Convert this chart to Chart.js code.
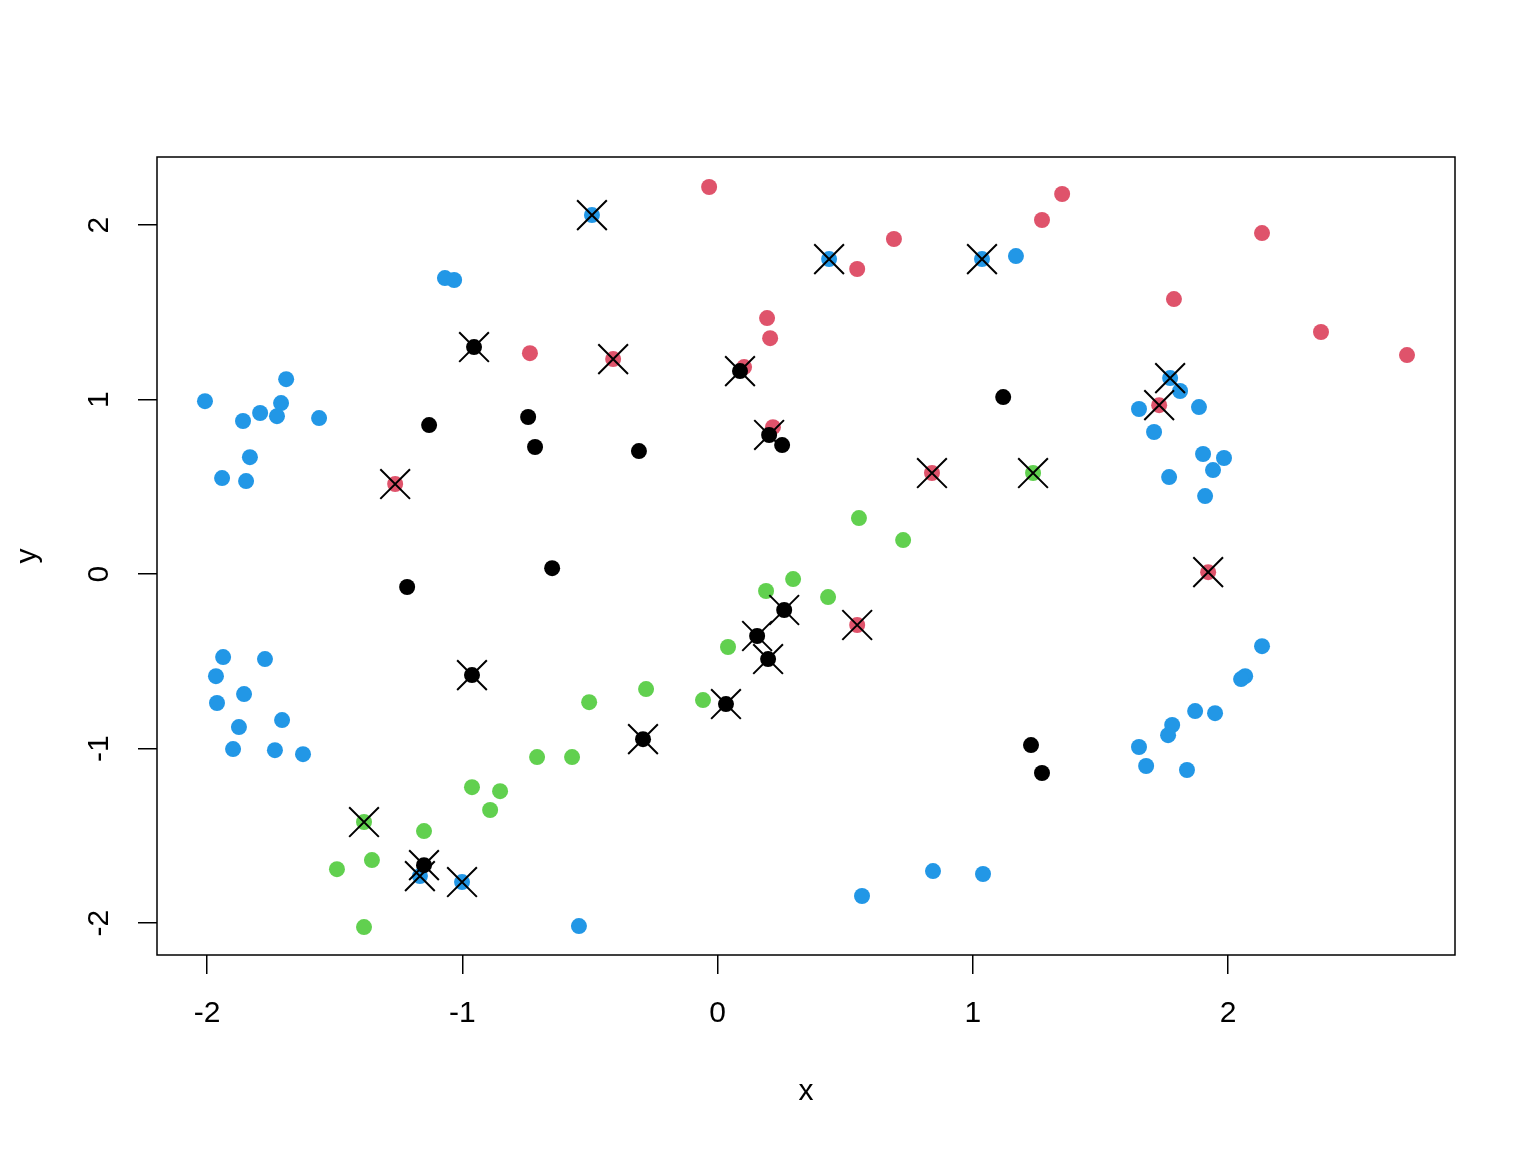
<!DOCTYPE html>
<html>
<head>
<meta charset="utf-8">
<script src="https://cdn.jsdelivr.net/npm/chart.js@4/dist/chart.umd.min.js"></script>
<style>
  html, body { margin: 0; padding: 0; background: #fff; }
  #wrap { width: 1536px; height: 1152px; }
</style>
</head>
<body>
<div id="wrap"><canvas id="plot" width="1536" height="1152"></canvas></div>
<script>
// ---- data ----
const xTicks = [-2, -1, 0, 1, 2];
const yTicks = [-2, -1, 0, 1, 2];
const xLimits = [-2.196, 2.889];
const yLimits = [-2.183, 2.390];

// plain points and points that carry an "x" marker, per colour group
const bluePlain = [
  [-2.008, 0.991], [-1.859, 0.877], [-1.792, 0.923], [-1.710, 0.980], [-1.690, 1.117],
  [-1.726, 0.905], [-1.561, 0.894], [-1.832, 0.670], [-1.941, 0.550], [-1.847, 0.533],
  [-1.068, 1.696], [-1.032, 1.685], [1.169, 1.822], [1.812, 1.049], [1.651, 0.946],
  [1.886, 0.957], [1.710, 0.814], [1.902, 0.688], [1.984, 0.665], [1.941, 0.596],
  [1.769, 0.556], [1.910, 0.447],
  [-1.937, -0.476], [-1.773, -0.487], [-1.965, -0.585], [-1.855, -0.688], [-1.961, -0.739],
  [-1.706, -0.837], [-1.875, -0.877], [-1.898, -1.003], [-1.734, -1.009], [-1.624, -1.032],
  [-0.543, -2.017], [0.566, -1.845], [0.844, -1.702], [1.040, -1.719],
  [2.133, -0.413], [2.067, -0.585], [2.051, -0.602], [1.871, -0.785], [1.949, -0.797],
  [1.781, -0.865], [1.765, -0.923], [1.651, -0.991], [1.679, -1.100], [1.839, -1.123],
];
const blueMarked = [
  [-0.492, 2.057], [0.437, 1.805], [1.036, 1.805], [1.773, 1.123], [-1.166, -1.731], [-1.001, -1.765],
];

const redPlain = [
  [-0.033, 2.218], [-0.735, 1.266], [0.547, 1.748], [0.691, 1.920], [0.194, 1.467],
  [0.206, 1.352], [0.104, 1.186], [0.217, 0.842], [1.350, 2.178], [1.271, 2.029],
  [2.133, 1.954], [1.788, 1.576], [2.364, 1.387], [2.701, 1.255],
];
const redMarked = [
  [-1.263, 0.516], [-0.409, 1.232], [0.840, 0.579], [1.730, 0.968], [1.922, 0.011], [0.547, -0.292],
];

const blackPlain = [
  [-1.130, 0.854], [-0.742, 0.900], [-0.715, 0.728], [-0.308, 0.705], [0.253, 0.739],
  [1.119, 1.014], [-1.216, -0.074], [-0.648, 0.034], [1.228, -0.980], [1.271, -1.140],
];
const blackMarked = [
  [-0.954, 1.301], [0.088, 1.163], [0.202, 0.797], [-0.962, -0.579], [0.261, -0.206],
  [0.155, -0.355], [0.198, -0.487], [0.033, -0.745], [-0.292, -0.946], [-1.150, -1.668],
];

const greenPlain = [
  [0.296, -0.029], [0.190, -0.097], [0.433, -0.132], [0.554, 0.321], [0.727, 0.195],
  [0.041, -0.418], [-0.280, -0.659], [-0.057, -0.722], [-0.503, -0.734], [-0.707, -1.049],
  [-0.570, -1.049], [-0.962, -1.221], [-0.852, -1.244], [-0.891, -1.352], [-1.150, -1.473],
  [-1.354, -1.639], [-1.491, -1.691], [-1.385, -2.023],
];
const greenMarked = [[-1.385, -1.421], [1.236, 0.579]];

// ---- chart ----
const FONT = { family: "'Liberation Sans', Arial, Helvetica, sans-serif", size: 30 };
const toXY = arr => arr.map(([x, y]) => ({ x, y }));

function dotSet(label, color, plain, marked, order) {
  return {
    label, order,
    data: toXY(plain.concat(marked)),
    backgroundColor: color, borderColor: color,
    pointRadius: 8, pointHoverRadius: 8, borderWidth: 0,
  };
}

const markedAll = blackMarked.concat(redMarked, greenMarked, blueMarked);

// plot box like base R's box()
const boxPlugin = {
  id: 'box',
  afterDraw(chart) {
    const { ctx, chartArea: a } = chart;
    ctx.save();
    ctx.strokeStyle = '#000';
    ctx.lineWidth = 1.5;
    ctx.strokeRect(a.left, a.top, a.right - a.left, a.bottom - a.top);
    ctx.restore();
  }
};

new Chart(document.getElementById('plot'), {
  type: 'scatter',
  data: {
    datasets: [
      { label: 'marked', order: 0, data: toXY(markedAll), pointStyle: 'crossRot',
        pointRadius: 21, pointHoverRadius: 21, borderColor: '#000', borderWidth: 2,
        backgroundColor: 'transparent' },
      dotSet('black', '#000000', blackPlain, blackMarked, 1),
      dotSet('red', '#DF536B', redPlain, redMarked, 2),
      dotSet('green', '#61D04F', greenPlain, greenMarked, 3),
      dotSet('blue', '#2297E6', bluePlain, blueMarked, 4),
    ],
  },
  options: {
    responsive: false,
    animation: false,
    layout: { padding: { top: 157, right: 81, left: 0, bottom: 0 } },
    plugins: { legend: { display: false }, tooltip: { enabled: false } },
    scales: {
      x: {
        type: 'linear', min: xLimits[0], max: xLimits[1],
        afterBuildTicks: s => { s.ticks = xTicks.map(v => ({ value: v })); },
        afterFit: s => { s.height = 197; },
        grid: { drawOnChartArea: false, drawTicks: true, tickLength: 19, color: '#000', lineWidth: 1.5 },
        border: { display: false },
        ticks: { color: '#000', font: FONT, padding: 22, maxRotation: 0, autoSkip: false },
        title: { display: true, text: 'x', color: '#000', font: FONT, padding: { bottom: 42 } },
      },
      y: {
        type: 'linear', min: yLimits[0], max: yLimits[1],
        afterBuildTicks: s => { s.ticks = yTicks.map(v => ({ value: v })); },
        afterFit: s => { s.width = 157; },
        grid: { drawOnChartArea: false, drawTicks: true, tickLength: 19, color: '#000', lineWidth: 1.5 },
        border: { display: false },
        ticks: { color: '#000', font: FONT, padding: 25, minRotation: 90, maxRotation: 90,
                 crossAlign: 'center', autoSkip: false },
        title: { display: true, text: 'y', color: '#000', font: FONT, padding: { top: 10 } },
      },
    },
  },
  plugins: [boxPlugin],
});
</script>
</body>
</html>
